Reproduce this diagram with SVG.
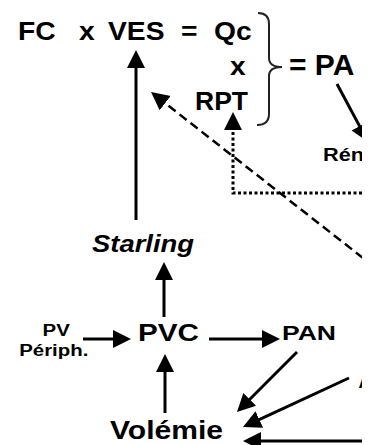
<svg xmlns="http://www.w3.org/2000/svg" width="372" height="445" viewBox="0 0 372 445">
<style>
.t{font-family:"Liberation Sans",Arial,sans-serif;font-weight:bold;fill:#000}
.ln{stroke:#000;stroke-width:3;fill:none}
.dash{stroke:#000;stroke-width:2.5;fill:none;stroke-dasharray:9 5}
.dot{stroke:#000;stroke-width:3;fill:none;stroke-dasharray:3 2.5}
.brace{stroke:#222;stroke-width:2;fill:none}
</style>
<defs>
<clipPath id="cp"><rect x="0" y="0" width="362" height="445"/></clipPath>
<marker id="ah" markerUnits="userSpaceOnUse" markerWidth="20" markerHeight="20" viewBox="0 0 20 20" refX="2" refY="10" orient="auto">
<path d="M0,1 L18,10 L0,19 z" fill="#000"/>
</marker>
</defs>
<g clip-path="url(#cp)">
<g id="equation">
<text class="t" font-size="25" transform="translate(0,40) scale(1.13,1)"><tspan x="15.9">FC</tspan><tspan x="69.9">x</tspan><tspan x="95.6">VES</tspan><tspan x="160.2">=</tspan><tspan x="189.4">Qc</tspan></text>
<text class="t" font-size="25" x="230" y="75" textLength="15.6" lengthAdjust="spacingAndGlyphs">x</text>
<text class="t" font-size="25" x="195" y="110" textLength="53" lengthAdjust="spacingAndGlyphs">RPT</text>
<path class="brace" d="M258,13 Q269,13 269,24 L269,58 Q269,67 282,67 Q269,67 269,76 L269,114 Q269,125 257,125"/>
<text class="t" font-size="30" x="289" y="75">= PA</text>
</g>
<g id="renine"><text class="t" font-size="18" x="323" y="161" textLength="41" lengthAdjust="spacingAndGlyphs">Rén</text></g>
<g id="starling"><text class="t" font-size="23" font-style="italic" x="92" y="252" textLength="102" lengthAdjust="spacingAndGlyphs">Starling</text></g>
<g id="pv"><text class="t" font-size="17" text-anchor="middle" transform="translate(55,0) scale(1.2,1)"><tspan x="1" y="336">PV</tspan><tspan x="-1" y="356">Périph.</tspan></text></g>
<g id="pvc"><text class="t" font-size="24" x="138" y="341" textLength="61" lengthAdjust="spacingAndGlyphs">PVC</text></g>
<g id="pan"><text class="t" font-size="20" x="282" y="340" textLength="54" lengthAdjust="spacingAndGlyphs">PAN</text></g>
<g id="volemie"><text class="t" font-size="26" x="110" y="439" textLength="113" lengthAdjust="spacingAndGlyphs">Volémie</text></g>
<g id="partial"><text class="t" font-size="18" x="358.5" y="388">A</text></g>
<g id="connectors">
<line class="ln" x1="136" y1="220" x2="136" y2="66" marker-end="url(#ah)"/>
<line class="dash" x1="363" y1="258" x2="163.6" y2="101.9" marker-end="url(#ah)"/>
<polyline class="dot" points="362,193 233,193 233,128" marker-end="url(#ah)"/>
<line class="ln" x1="337" y1="84" x2="360.5" y2="127.9" marker-end="url(#ah)"/>
<line class="ln" x1="164" y1="317" x2="164" y2="278" marker-end="url(#ah)"/>
<line class="ln" x1="83" y1="339" x2="115" y2="339" marker-end="url(#ah)"/>
<line class="ln" x1="209" y1="339" x2="264" y2="339" marker-end="url(#ah)"/>
<line class="ln" x1="297" y1="352" x2="248.3" y2="400.7" marker-end="url(#ah)"/>
<line class="ln" x1="349" y1="378" x2="257.5" y2="420.3" marker-end="url(#ah)"/>
<line class="ln" x1="362" y1="441" x2="259" y2="441" marker-end="url(#ah)"/>
<line class="ln" x1="165" y1="413" x2="165" y2="370" marker-end="url(#ah)"/>
</g>
</g>
</svg>
